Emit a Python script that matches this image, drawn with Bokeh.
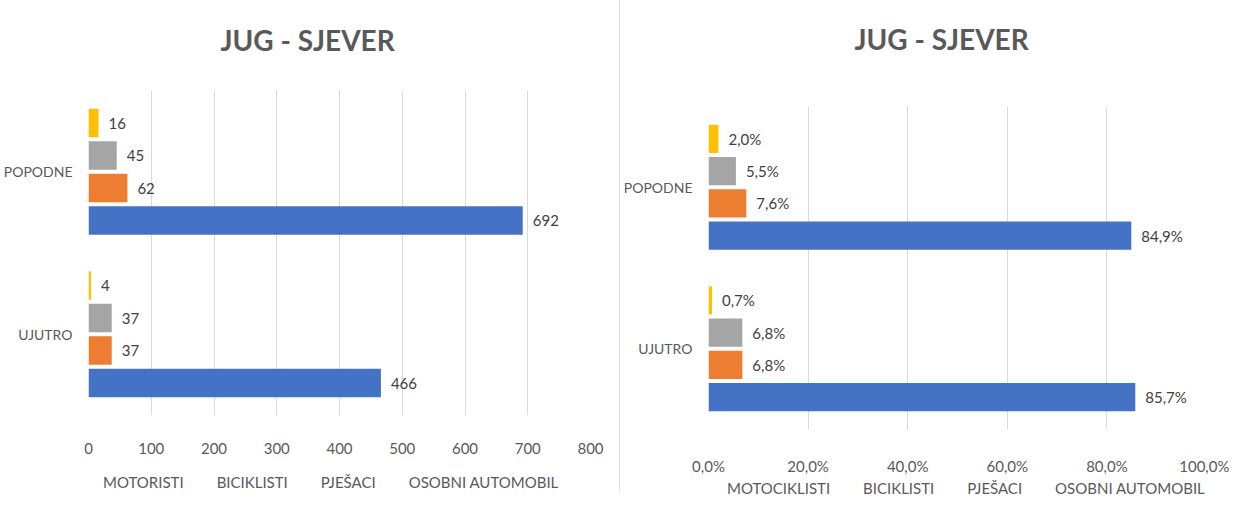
from bokeh.plotting import figure
from bokeh.models import (ColumnDataSource, FactorRange, Range1d, FixedTicker, Legend,
                          LegendItem, Div, Title)
from bokeh.transform import dodge
from bokeh.layouts import row, column
from bokeh.embed import file_html
from bokeh.resources import INLINE
from bokeh.core.properties import value

FONT = "Lato"

periods = ["UJUTRO", "POPODNE"]

# left chart: counts
left_series = ["MOTORISTI", "BICIKLISTI", "PJEŠACI", "OSOBNI AUTOMOBIL"]
motoristi = [4, 16]
biciklisti = [37, 45]
pjesaci = [37, 62]
osobni = [466, 692]
left_ticks = [0, 100, 200, 300, 400, 500, 600, 700, 800]

# right chart: shares in percent
right_series = ["MOTOCIKLISTI", "BICIKLISTI", "PJEŠACI", "OSOBNI AUTOMOBIL"]
motociklisti_pct = [0.7, 2.0]
biciklisti_pct = [6.8, 5.5]
pjesaci_pct = [6.8, 7.6]
osobni_pct = [85.7, 84.9]
right_ticks = [0, 20, 40, 60, 80, 100]
right_tick_labels = ["0,0%", "20,0%", "40,0%", "60,0%", "80,0%", "100,0%"]

colors = ["#FFC000", "#A5A5A5", "#ED7D31", "#4472C4"]
offsets = [0.3, 0.1, -0.1, -0.3]


def make_panel(fw, fh, xmax, ticks, tick_labels, series, fmt,
               b_left, b_right, b_top, b_bottom, title_gap, title_offset,
               label_standoff):
    p = figure(frame_width=fw, frame_height=fh, y_range=FactorRange(*periods),
               x_range=Range1d(0, xmax), output_backend="svg",
               toolbar_location=None, min_border_left=b_left,
               min_border_right=b_right, min_border_top=b_top,
               min_border_bottom=b_bottom, margin=0, frame_align=False,
               title=None)
    p.outline_line_color = None
    # spacer between frame and title, then the title itself
    p.add_layout(Title(text=" ", text_font_size="1px", standoff=title_gap), "above")
    p.add_layout(Title(text="JUG - SJEVER", text_font=FONT, text_font_size="28px",
                       text_font_style="bold", text_color="#595959", align="left",
                       standoff=0, offset=title_offset), "above")

    for vals, col, off in zip(series, colors, offsets):
        src = ColumnDataSource(dict(y=periods, v=vals, lbl=[fmt(v) for v in vals]))
        p.hbar(y=dodge("y", off, range=p.y_range), right="v", left=0,
               height=0.175, source=src, fill_color=col, line_color=None)
        p.text(x="v", y=dodge("y", off, range=p.y_range), text="lbl", source=src,
               x_offset=10, text_baseline="middle", text_align="left",
               text_font=value(FONT), text_font_size="15px", text_color="#404040")

    p.xaxis.ticker = FixedTicker(ticks=ticks)
    p.xaxis.major_label_overrides = {t: l for t, l in zip(ticks, tick_labels)}
    p.xaxis.axis_line_color = None
    p.xaxis.major_tick_line_color = None
    p.xaxis.minor_tick_line_color = None
    p.xaxis.major_label_standoff = label_standoff
    p.xaxis.major_label_text_font = FONT
    p.xaxis.major_label_text_font_size = "15px"
    p.xaxis.major_label_text_color = "#595959"

    p.yaxis.axis_line_color = None
    p.yaxis.major_tick_line_color = None
    p.yaxis.major_label_standoff = 10
    p.yaxis.major_label_text_font = FONT
    p.yaxis.major_label_text_font_size = "14px"
    p.yaxis.major_label_text_color = "#595959"

    p.xgrid.grid_line_color = "#D9D9D9"
    p.xgrid.ticker = FixedTicker(ticks=ticks)
    p.ygrid.grid_line_color = None
    return p


def make_legend(width, names, x_pos):
    lf = figure(width=width, height=20, x_range=Range1d(0, 1), y_range=Range1d(0, 1),
                x_axis_type=None, y_axis_type=None, toolbar_location=None,
                output_backend="svg", min_border=0, margin=0, frame_align=False,
                title=None)
    lf.outline_line_color = None
    items = []
    for name, col in zip(names, colors):
        r = lf.hbar(y=[], right=[], left=0, height=0.5, fill_color=col, line_color=None)
        items.append(LegendItem(label=name, renderers=[r]))
    legend = Legend(items=items, orientation="horizontal", location=(x_pos, 0),
                    border_line_color=None, background_fill_alpha=0,
                    label_text_font=FONT, label_text_font_size="15px",
                    label_text_color="#595959", glyph_width=9, glyph_height=13,
                    label_height=16, label_standoff=4, spacing=20, padding=0,
                    margin=0)
    lf.add_layout(legend, "center")
    return lf


left = make_panel(502, 325, 800, left_ticks, [str(t) for t in left_ticks],
                  [motoristi, biciklisti, pjesaci, osobni], lambda v: str(v),
                  82, 29, 90, 56, 31, 132, 21)
right = make_panel(498, 323, 100, right_ticks, right_tick_labels,
                   [motociklisti_pct, biciklisti_pct, pjesaci_pct, osobni_pct],
                   lambda v: f"{v:.1f}".replace(".", ",") + "%",
                   82, 23, 106, 42, 48, 146, 21)

left_legend = make_legend(613, left_series, 90)
right_legend = make_legend(603, right_series, 94)

divider = Div(text="", width=1, height=491, margin=0,
              styles={"background-color": "#D9D9D9"})

layout = row(column(left, left_legend), divider, column(right, right_legend))
open("out.html", "w").write(file_html(layout, INLINE))
